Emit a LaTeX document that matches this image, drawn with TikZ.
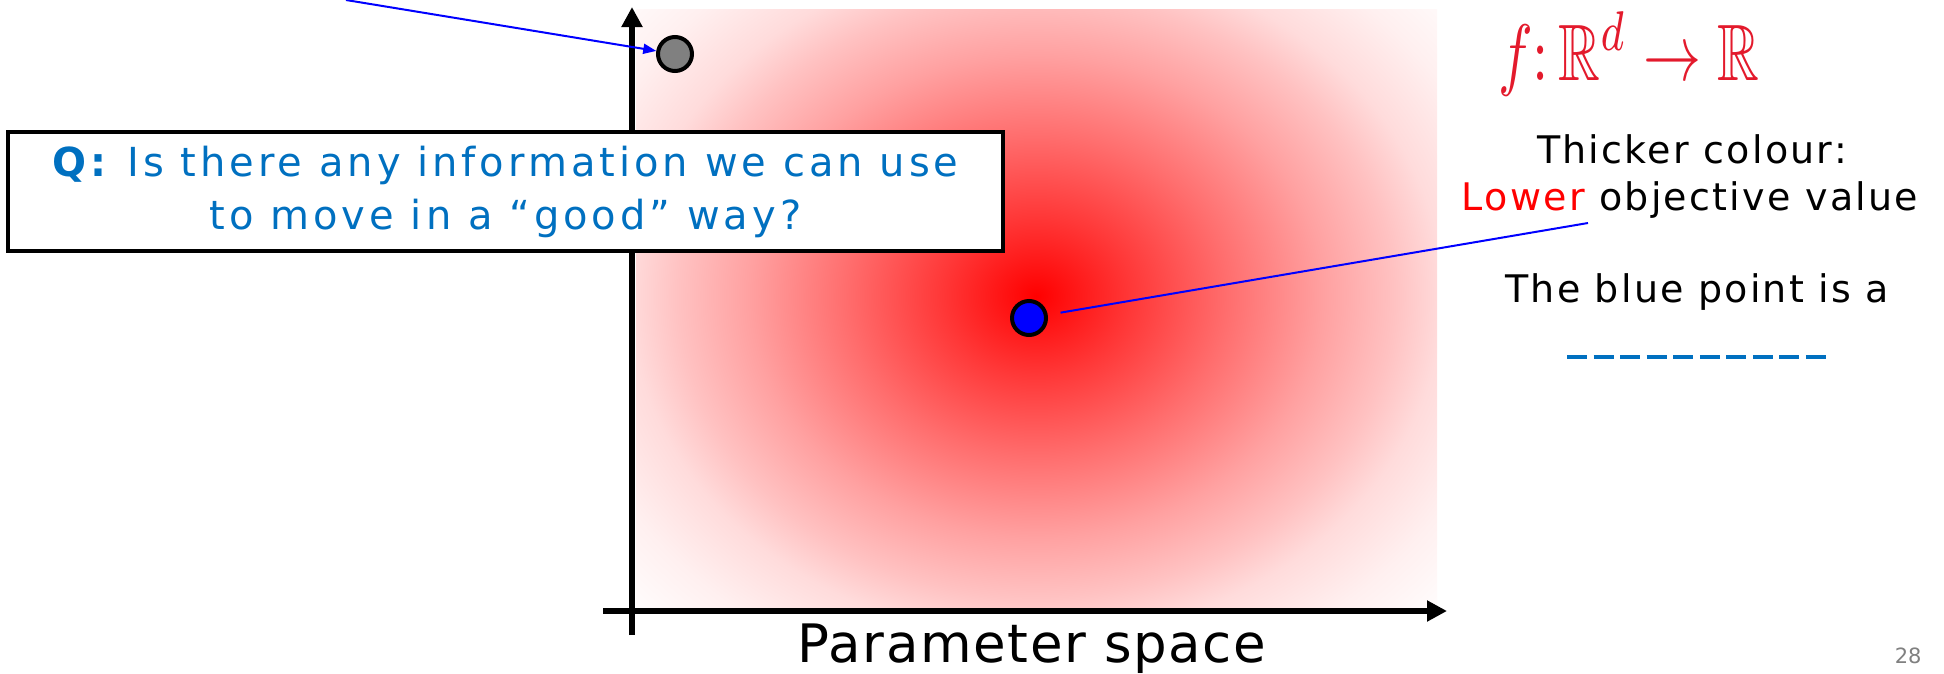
\documentclass[tikz,border=0pt]{standalone}
\usepackage{graphicx}
\usepackage{amssymb}
\usepackage{fontspec}
\setmainfont{DejaVu Sans}
\newfontfamily\rfont[LetterSpace=6]{DejaVu Sans}
\newfontfamily\qfont[LetterSpace=10]{DejaVu Sans}
\newfontfamily\pfont[LetterSpace=3]{DejaVu Sans}
\usetikzlibrary{arrows.meta}
\definecolor{qblue}{HTML}{0070C0}
\definecolor{hred}{HTML}{E31A2C}
\definecolor{ptgray}{HTML}{808080}
\pgfdeclareradialshading{redglow}{\pgfpoint{0bp}{0bp}}{color(0bp)=(red); color(80bp)=(red!78); color(160bp)=(red!57); color(240bp)=(red!37); color(300bp)=(red!24); color(340bp)=(red!14); color(400bp)=(red!6); color(470bp)=(white); color(700bp)=(white)}
\begin{document}
\begin{tikzpicture}[x=1pt,y=-1pt,
  axis/.style={line width=6pt, -{Triangle[length=20pt,width=20pt]}},
  dot/.style={circle, draw=black, line width=4pt, minimum size=34pt, inner sep=0pt},
  callout/.style={draw=blue, line width=2pt},
  rtext/.style={anchor=base, font=\rfont\fontsize{38}{47}\selectfont},
]
\useasboundingbox (0,0) rectangle (1944,673);
% red objective landscape
\begin{scope}
  \clip (636,9) rectangle (1437,610);
  \begin{scope}[shift={(1036,296)}, xscale=1.19]
    \pgflowlevelsynccm
    \pgfuseshading{redglow}
  \end{scope}
\end{scope}
% axes
\coordinate (ybot) at (632,635);
\coordinate (ytop) at (632,7);
\coordinate (xleft) at (603,611);
\coordinate (xright) at (1447,611);
\draw[axis] (ybot) -- (ytop);
\draw[axis] (xleft) -- (xright);
% gray start point
\node[dot, fill=ptgray] (start) at (675,54) {};
\coordinate (qsrc) at (346,0);
\draw[callout, -{Triangle[length=13pt,width=10pt]}] (qsrc) -- (start);
% question box
\node[draw=black, line width=4pt, fill=white, minimum width=995pt, minimum height=119pt,
      inner sep=0pt, align=center, text=qblue, font=\qfont\fontsize{40}{53}\selectfont]
      (qbox) at (505.5,191.5) {\textbf{Q:} Is there any information we can use\\to move in a “good” way?};
% blue optimum
\node[dot, fill=blue] (opt) at (1029,318) {};
\coordinate (lowend) at (1588,223);
\draw[callout, shorten >=13pt] (lowend) -- (opt);
% right-hand texts
\node[anchor=base west, text=hred, inner sep=0pt] (fmap) at (1498,80)
  {\scalebox{5.8}[8]{$f\colon\mathbb{R}^d\to\mathbb{R}$}};
\node[rtext] (t1) at (1692,163) {Thicker colour:};
\node[rtext] (t2) at (1690,210) {\textcolor{red}{Lower} objective value};
\node[rtext] (t3) at (1697,302) {The blue point is a};
\coordinate (blankL) at (1567,357);
\coordinate (blankR) at (1826,357);
\draw[qblue, line width=3.5pt, dash pattern=on 20pt off 6.55pt] (blankL) -- (blankR);
% axis label and page number
\node[anchor=base, font=\pfont\fontsize{53}{60}\selectfont] (xlabel) at (1032,662) {Parameter space};
\node[anchor=base east, text=ptgray, font=\fontsize{21}{24}\selectfont] (pgnum) at (1925,663) {28};
\end{tikzpicture}
\end{document}
